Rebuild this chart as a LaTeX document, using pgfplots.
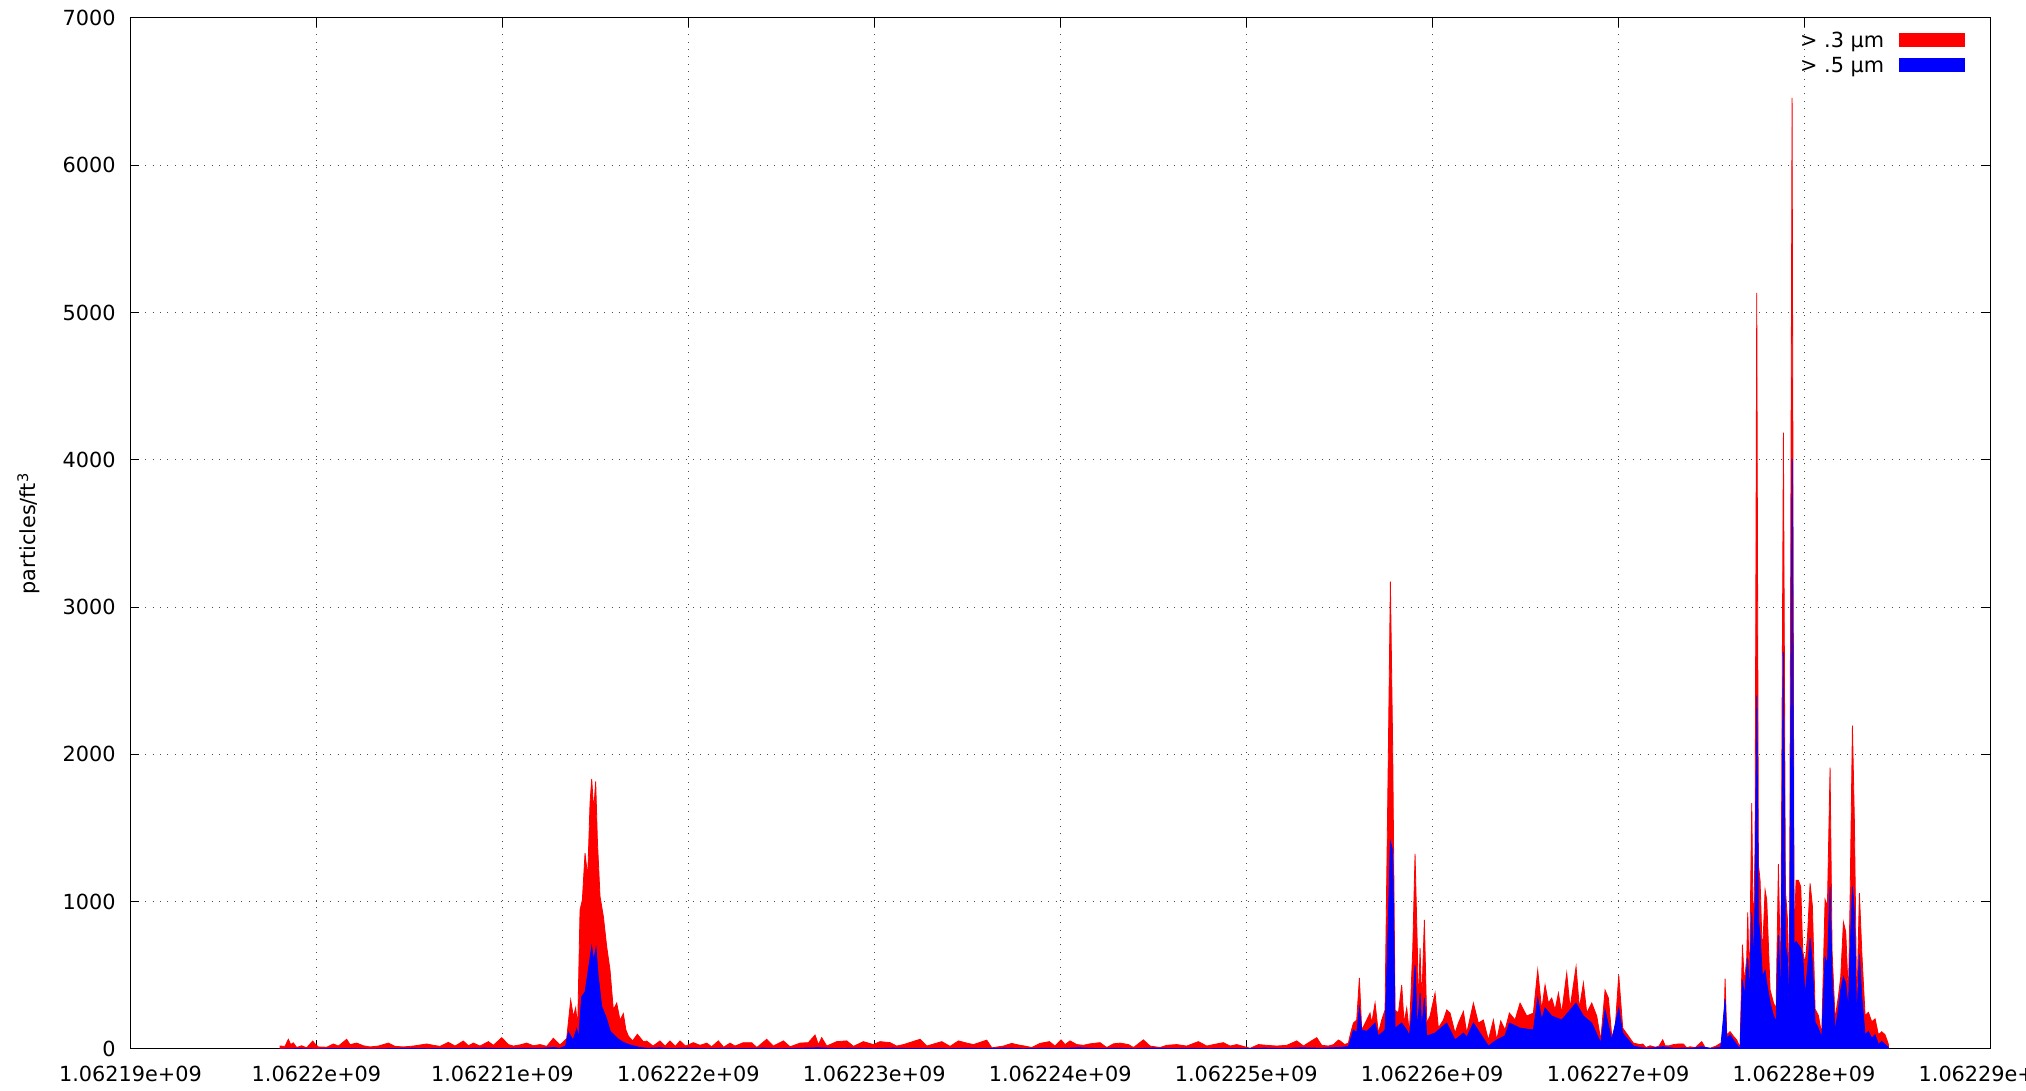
\documentclass[border=0pt]{standalone}
\usepackage{fontspec}
\setmainfont{DejaVu Sans}
\usepackage{pgfplots}
\usepackage{pgfplotstable}
\pgfplotsset{compat=1.18}

% time is stored as seconds after 1062190000
\pgfplotstableread{
t v
8040 20
8309 18
8488 66
8614 30
8757 42
8936 10
9205 22
9474 8
9797 54
9958 30
10101 14
10550 12
10909 34
11178 20
11626 66
11805 30
12164 40
12522 22
12881 14
13329 20
13867 40
14226 18
14674 14
15212 20
15929 34
16288 25
16646 18
17094 45
17453 20
17901 54
18170 22
18439 40
18798 20
19246 50
19515 25
19963 77
20322 30
20591 20
20950 28
21308 40
21667 22
22026 30
22384 18
22740 73
23100 27
23457 72
23673 333
23816 220
23941 280
24049 150
24175 944
24300 1012
24444 1330
24587 1170
24713 1670
24802 1833
24910 1620
25017 1817
25107 1420
25250 1035
25430 900
25609 695
25788 536
25967 265
26147 312
26326 195
26505 240
26640 130
26775 88
27000 55
27259 100
27580 50
27760 54
28100 20
28477 55
28750 20
29015 55
29300 18
29552 55
29850 20
30270 43
30630 25
30990 40
31250 15
31614 55
31900 12
32240 40
32510 20
32960 43
33410 43
33680 10
34214 66
34570 20
35111 55
35470 15
36010 40
36450 43
36814 95
36990 30
37173 77
37440 20
37980 50
38520 55
38880 18
39414 50
39950 30
40310 50
40850 43
41200 20
41570 30
42462 66
42820 20
43628 50
44075 18
44523 55
44970 40
45330 30
46048 60
46320 8
46940 20
47389 38
47840 25
48100 20
48460 10
48913 38
49415 50
49720 20
50042 62
50260 30
50526 55
50890 30
51240 25
51600 35
52140 43
52500 10
52860 35
53220 40
53670 30
53940 10
54471 62
54830 20
55370 10
55730 25
56260 30
56800 20
57429 50
57880 20
58240 30
58770 43
59130 20
59490 30
60210 5
60660 30
61100 25
61640 20
62180 25
62719 55
63080 20
63440 50
63795 77
64060 25
64420 20
64700 30
64957 61
65050 55
65300 30
65495 40
65600 100
65764 176
65943 197
66087 482
66212 129
66481 197
66660 244
66750 176
66930 312
67108 108
67288 197
67467 265
67646 2030
67754 3173
67879 2030
68005 265
68184 244
68363 435
68489 176
68632 278
68776 108
68955 672
69080 1324
69206 672
69260 244
69349 686
69439 312
69582 876
69708 176
69887 224
70156 380
70335 142
70604 197
70783 265
70963 244
71231 108
71411 176
71680 255
71859 108
72218 312
72486 176
72755 197
73024 61
73293 197
73473 61
73688 190
73920 129
74154 244
74459 197
74727 312
75086 224
75444 244
75677 536
75893 265
76072 435
76251 312
76430 346
76610 265
76789 380
76968 244
77237 516
77416 278
77739 559
77918 278
78134 448
78313 244
78582 312
78851 224
79066 61
79299 400
79478 346
79658 88
79837 129
80034 502
80249 142
80554 88
80823 40
81181 30
81324 34
81500 10
81720 22
82000 12
82200 20
82400 63
82530 22
82760 22
82980 30
83240 34
83512 34
83690 8
83870 15
84150 10
84498 50
84680 10
84950 5
85300 22
85520 40
85680 60
85753 477
85842 96
86021 118
86201 87
86380 61
86559 9
86685 708
86792 446
86918 621
86972 927
87060 402
87187 1670
87276 664
87366 1400
87456 5133
87545 1255
87635 1145
87760 621
87904 1080
87993 1014
88173 402
88352 315
88495 271
88621 1255
88746 402
88890 4184
88997 1080
89105 883
89212 402
89356 6458
89463 730
89571 1145
89696 1145
89822 1102
89930 664
90055 577
90180 752
90324 1124
90449 971
90593 271
90772 227
90951 96
91131 1014
91256 971
91399 1911
91507 664
91668 205
91848 358
91973 490
92117 861
92242 796
92385 358
92475 1014
92601 2195
92708 1539
92834 271
92977 1058
93103 664
93282 227
93461 249
93640 184
93820 205
93999 96
94178 118
94357 96
94483 52
94537 30
}\pointthree

\pgfplotstableread{
t v
8040 0
9000 3
10000 0
11000 4
12000 2
13000 0
14000 3
15000 5
16000 2
17000 4
18000 3
19000 6
20000 3
21000 5
22000 4
22740 10
23100 5
23400 20
23547 115
23800 60
23995 136
24100 80
24264 355
24444 387
24600 520
24802 695
24910 600
25035 686
25150 500
25340 290
25609 204
25800 120
25967 100
26200 70
26505 45
26800 30
27100 20
27402 10
27800 5
28500 8
29000 3
30000 6
31000 2
32000 5
33000 3
34000 6
35000 2
36000 5
37000 8
38000 3
39000 5
40000 2
41000 6
42000 3
43000 4
44000 2
45000 5
46000 3
47000 6
48000 2
49000 5
50000 3
51000 8
52000 3
53000 5
54000 2
55000 6
56000 3
57000 5
58000 2
59000 4
60000 3
61000 6
62000 3
63000 8
64000 5
64957 10
65495 16
65764 129
65943 110
66087 278
66212 129
66481 120
66660 142
66930 176
67108 88
67467 129
67646 900
67754 1408
67879 1350
68005 142
68363 176
68632 129
68776 88
68955 300
69080 570
69206 129
69349 380
69439 129
69582 346
69708 88
70156 108
70783 176
71231 61
71680 108
71859 80
72218 176
73024 20
73473 61
73920 90
74154 176
74727 142
75444 129
75677 346
75893 200
76072 278
76430 224
76968 197
77739 312
78134 224
78582 176
79066 40
79299 265
79658 61
80034 278
80249 108
80823 20
81181 10
81500 5
82000 8
82400 15
83000 5
83500 6
84000 5
84498 15
85000 4
85520 12
85753 337
85842 74
86021 96
86201 61
86380 30
86559 0
86685 468
86792 358
86850 446
86972 621
87060 358
87187 927
87276 577
87366 1000
87456 2400
87545 883
87635 774
87760 490
87904 533
87993 446
88173 315
88352 227
88495 184
88621 774
88746 315
88890 2697
88997 708
89105 621
89212 227
89356 4009
89463 708
89571 730
89696 708
89822 686
89930 621
90055 358
90324 752
90449 577
90593 184
90772 140
90951 74
91131 621
91256 577
91399 1102
91507 490
91668 118
91848 271
91973 402
92117 490
92242 446
92385 271
92475 664
92601 1102
92708 927
92834 184
92977 643
93103 358
93282 96
93461 118
93640 74
93820 96
93999 30
94178 52
94357 30
94483 17
94537 10
}\pointfive

\begin{document}
\fontsize{10.4}{12.5}\selectfont
\begin{tikzpicture}
\begin{axis}[
    at={(0,0)}, anchor=south west,
    scale only axis,
    width=929.75pt, height=515.5pt,
    xmin=0, xmax=100000,
    ymin=0, ymax=7000,
    xtick={0,10000,...,100000},
    xticklabels={1.06219e+09,1.0622e+09,1.06221e+09,1.06222e+09,1.06223e+09,1.06224e+09,1.06225e+09,1.06226e+09,1.06227e+09,1.06228e+09,1.06229e+09},
    ytick={0,1000,...,7000},
    scaled x ticks=false,
    /pgf/number format/assume math mode=true,
    /pgf/number format/1000 sep={},
    xticklabel style={yshift=-5pt},
    yticklabel style={xshift=-3.8pt},
    tick align=inside,
    tick pos=both,
    major tick length=4.5pt,
    tick style={black, line width=0.5pt},
    axis line style={black, line width=0.5pt},
    grid=major,
    major grid style={black!70, line width=0.5pt, dash pattern=on 0.5pt off 3.2pt},
    ylabel={particles/ft\textsuperscript{3}},
    ylabel style={at={(axis description cs:-0.0549,0.5)}, anchor=center},
    legend plot pos=right,
    legend cell align=right,
    legend image code/.code={\fill[#1] (0pt,-1.9pt) rectangle (32.5pt,4.4pt);},
    legend style={draw=none, fill=none, inner sep=0pt, outer sep=0pt,
        at={(axis description cs:1,1)}, anchor=north east,
        xshift=-12.5pt, yshift=-7.2pt,
        row sep=2.75pt, column sep=7.5pt,
        nodes={inner sep=0pt, text height=7.6pt, text depth=2.2pt}},
]
    % > .3 um counts
    \addplot[draw=red, fill=red, line width=0.4pt] table[x=t, y=v] {\pointthree} \closedcycle;
    \addlegendentry{> .3 µm}

    % > .5 um counts
    \addplot[draw=blue, fill=blue, line width=0.4pt] table[x=t, y=v] {\pointfive} \closedcycle;
    \addlegendentry{> .5 µm}
\end{axis}
\pgfresetboundingbox
\path[use as bounding box] (-65.25pt,-21pt) rectangle (947.75pt,524.5pt);
\end{tikzpicture}
\end{document}
